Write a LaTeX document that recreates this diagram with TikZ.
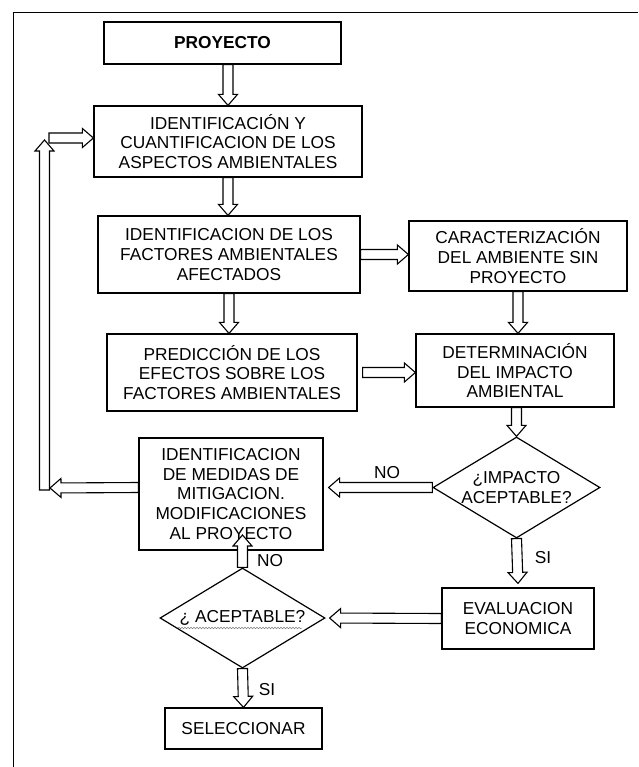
\documentclass[tikz,border=0pt]{standalone}
\usepackage{fontspec}
\setmainfont{Liberation Sans}
\usetikzlibrary{calc,shapes.geometric,decorations.pathmorphing}
\tikzset{
  txt/.style={font=\fontsize{17.3}{19.6}\selectfont},
  box/.style={txt, draw, line width=1.2pt, align=center, inner sep=0pt},
  dia/.style={diamond, draw, line width=1.2pt, inner sep=0pt},
  hollow/.style={draw, line width=1.1pt, fill=white, line join=miter},
  lbl/.style={txt, inner sep=0pt},
}
\newcommand\barrow[2]{%
  \path (#1) coordinate (ba) (#2) coordinate (bb);
  \path ($(bb)!11pt!(ba)$) coordinate (bh);
  \draw[hollow] ($(ba)!5pt!90:(bb)$) -- ($(bh)!5pt!-90:(ba)$) -- ($(bh)!9.5pt!-90:(ba)$) -- (bb)
     -- ($(bh)!9.5pt!90:(ba)$) -- ($(bh)!5pt!90:(ba)$) -- ($(ba)!5pt!-90:(bb)$) -- cycle;}
\begin{document}
\begin{tikzpicture}[x=1pt,y=-1pt]
\useasboundingbox (0,0) rectangle (638,767);
\fill[white] (0,0) rectangle (638,767);
% frame
\draw[line width=1pt] (638,13) -- (13,13) -- (13,767);
% boxes
\node[box, minimum width=237pt, minimum height=42pt] (box1) at (222.5,43) {\textbf{PROYECTO}};
\node[box, minimum width=268pt, minimum height=71pt] (box2) at (228,141.5) {IDENTIFICACIÓN Y\\CUANTIFICACION DE LOS\\ASPECTOS AMBIENTALES};
\node[box, minimum width=262pt, minimum height=77pt] (box3) at (229,254.5) {IDENTIFICACION DE LOS\\FACTORES AMBIENTALES\\AFECTADOS};
\node[box, minimum width=218pt, minimum height=70pt] (box4) at (518,256) {CARACTERIZACIÓN\\DEL AMBIENTE SIN\\PROYECTO};
\node[box, minimum width=250pt, minimum height=77pt] (box5) at (232,372.5) {PREDICCIÓN DE LOS\\EFECTOS SOBRE LOS\\FACTORES AMBIENTALES};
\node[box, minimum width=198pt, minimum height=73pt] (box6) at (515,370.5) {DETERMINACIÓN\\DEL IMPACTO\\AMBIENTAL};
\node[box, minimum width=184pt, minimum height=112pt] (box7) at (231,494) {IDENTIFICACION\\DE MEDIDAS DE\\MITIGACION.\\MODIFICACIONES\\AL PROYECTO};
\node[box, minimum width=152pt, minimum height=61pt] (box8) at (518,618.5) {EVALUACION\\ECONOMICA};
\node[box, minimum width=157pt, minimum height=41pt] (sel) at (243.5,728.5) {SELECCIONAR};
% diamonds
\node[dia, minimum width=167pt, minimum height=101pt,
      label={[lbl, align=center]center:{¿IMPACTO\\ACEPTABLE?}}] (d1) at (516.5,487.5) {};
\node[dia, minimum width=165pt, minimum height=100pt,
      label={[lbl]center:{¿ ACEPTABLE?}}] (d2) at (242.5,618) {};
\draw[gray, line width=0.5pt, decorate, decoration={snake, amplitude=0.8pt, segment length=3pt}] (178,628) -- (302,628);
% free ends
\coordinate (fbtip) at (50,488);
\coordinate (fbbot) at (44.5,490);
\coordinate (fbtop) at (44.5,140);
\coordinate (fbstart) at (49,138);
\coordinate (notip) at (242.5,535);
% arrows
\barrow{box2.north |- box1.south}{box2.north}
\barrow{box2.south}{box2.south |- box3.north}
\barrow{box3.south}{box3.south |- box5.north}
\barrow{box3.east}{box4.west |- box3.east}
\barrow{box4.south}{box4.south |- box6.north}
\barrow{[xshift=5pt]box5.east}{box6.west |- box5.east}
\barrow{box6.south -| d1.north}{d1.north}
\barrow{d1.west}{[xshift=5pt]box7.east |- d1.west}
\barrow{fbbot}{fbtop}
\barrow{box7.west |- d1.west}{fbtip}
\barrow{fbstart}{box2.west |- fbstart}
\barrow{d1.south}{[yshift=4pt]box8.north}
\barrow{box8.west}{[xshift=4pt]d2.east}
\barrow{d2.north}{notip}
\barrow{d2.south}{sel.north}
% labels
\node[lbl] (no1) at (387,473) {NO};
\node[lbl] (si1) at (543,558) {SI};
\node[lbl] (no2) at (270,561) {NO};
\node[lbl] (si2) at (267,690) {SI};
\end{tikzpicture}
\end{document}
